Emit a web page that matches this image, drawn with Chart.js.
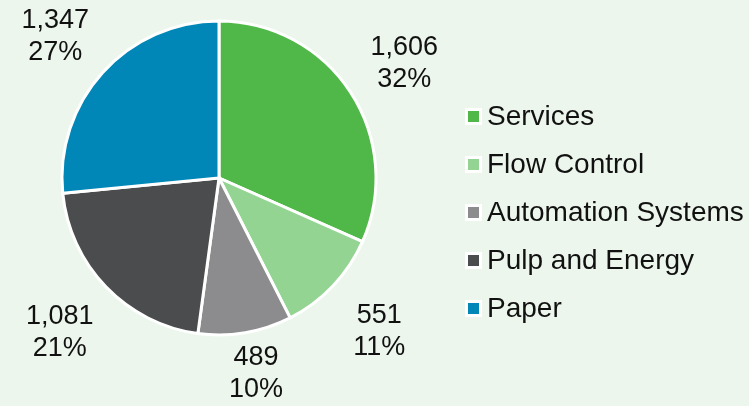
<!DOCTYPE html>
<html>
<head>
<meta charset="utf-8">
<script src="https://cdn.jsdelivr.net/npm/chart.js@4"></script>
<style>
  html, body { margin: 0; padding: 0; background: #ecf6ec; }
  #wrap { width: 749px; height: 406px; position: relative; }
</style>
</head>
<body>
<div id="wrap"><canvas id="pieChart" width="749" height="406"></canvas></div>
<script>
'use strict';

const SEGMENTS = ['Services', 'Flow Control', 'Automation Systems', 'Pulp and Energy', 'Paper'];
const VALUES = [1606, 551, 489, 1081, 1347];
const PERCENTS = ['32%', '11%', '10%', '21%', '27%'];
const COLORS = ['#50b848', '#94d493', '#8c8c8e', '#4b4c4e', '#0087b8'];

const FONT = "'Liberation Sans', Arial, sans-serif";

// outside labels: value + share, placed along each slice's mid angle
const outsideLabels = {
  id: 'outsideLabels',
  afterDatasetsDraw(chart) {
    const { ctx } = chart;
    const meta = chart.getDatasetMeta(0);
    ctx.save();
    ctx.font = '27px ' + FONT;
    ctx.fillStyle = '#111';
    ctx.textAlign = 'center';
    ctx.textBaseline = 'middle';
    meta.data.forEach((arc, i) => {
      const mid = (arc.startAngle + arc.endAngle) / 2;
      const r = arc.outerRadius + 60;
      const x = arc.x + Math.cos(mid) * r + Math.cos(mid) * 4;
      let y = arc.y + Math.sin(mid) * r + 4;
      y = Math.max(36, Math.min(chart.height - 32, y));
      ctx.fillText(VALUES[i].toLocaleString('en-US'), x, y - 16);
      ctx.fillText(PERCENTS[i], x, y + 16);
    });
    ctx.restore();
  }
};

// legend on the right, square markers with white edge
const sideLegend = {
  id: 'sideLegend',
  afterDraw(chart) {
    const { ctx } = chart;
    ctx.save();
    ctx.font = '28px ' + FONT;
    ctx.textBaseline = 'middle';
    SEGMENTS.forEach((name, i) => {
      const y = 116 + i * 48;
      ctx.fillStyle = '#fff';
      ctx.fillRect(465, y - 8, 17, 17);
      ctx.fillStyle = COLORS[i];
      ctx.fillRect(468, y - 5, 11, 11);
      ctx.fillStyle = '#111';
      ctx.fillText(name, 487, y + 1);
    });
    ctx.restore();
  }
};

new Chart(document.getElementById('pieChart').getContext('2d'), {
  type: 'pie',
  data: {
    labels: SEGMENTS,
    datasets: [{
      data: VALUES,
      backgroundColor: COLORS,
      borderColor: '#ffffff',
      borderWidth: 3,
      borderJoinStyle: 'miter',
    }]
  },
  options: {
    responsive: false,
    animation: false,
    radius: 157,
    layout: { padding: { left: 62, right: 373, top: 21, bottom: 71 } },
    plugins: {
      legend: { display: false },
      tooltip: { enabled: false },
    },
  },
  plugins: [outsideLabels, sideLegend],
});
</script>
</body>
</html>
